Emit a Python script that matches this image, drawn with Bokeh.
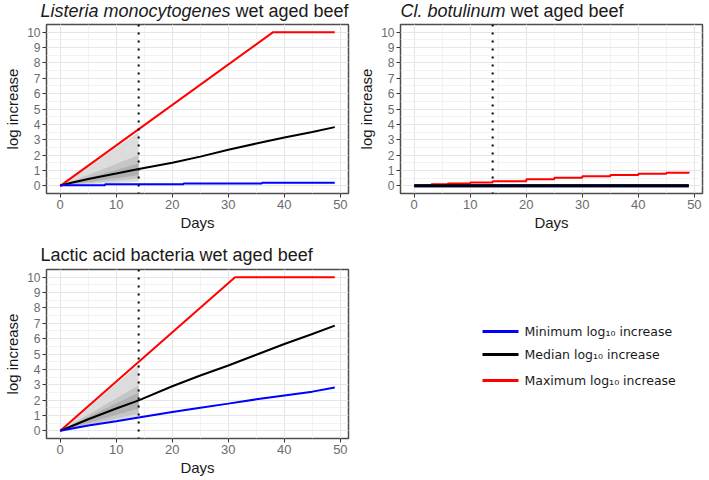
from bokeh.plotting import figure
from bokeh.layouts import row, column
from bokeh.models import Span, SingleIntervalTicker, Range1d, ColumnDataSource
from bokeh.embed import file_html
from bokeh.resources import INLINE
from bokeh.core.properties import value

FONT = "Liberation Sans"

# ---------------- data ----------------
# Listeria monocytogenes
lis_max_days = [0, 38, 49]
lis_max = [0, 10, 10]
lis_med_days = [0, 2, 5, 10, 14, 20, 25, 30, 35, 40, 45, 49]
lis_med = [0, 0.2, 0.45, 0.8, 1.1, 1.5, 1.9, 2.35, 2.75, 3.15, 3.5, 3.82]
lis_min_days = [0, 8, 22, 36, 49]
lis_min = [0.03, 0.1, 0.15, 0.2, 0.2]

# Cl. botulinum
bot_max_days = [3, 6, 10, 14, 20, 25, 30, 35, 40, 45, 49]
bot_max = [0.1, 0.15, 0.22, 0.3, 0.42, 0.52, 0.62, 0.7, 0.78, 0.85, 0.92]
bot_med_days = [0, 49]
bot_med = [0, 0]
bot_min_days = [0, 49]
bot_min = [0, 0]

# Lactic acid bacteria
lab_max_days = [0, 31.2, 49]
lab_max = [0, 10, 10]
lab_med_days = [0, 2, 5, 10, 14, 20, 25, 30, 35, 40, 45, 49]
lab_med = [0, 0.3, 0.75, 1.45, 1.98, 2.9, 3.6, 4.25, 4.95, 5.65, 6.3, 6.85]
lab_min_days = [0, 5, 10, 14, 20, 25, 30, 35, 40, 45, 49]
lab_min = [0, 0.35, 0.62, 0.86, 1.22, 1.5, 1.77, 2.05, 2.3, 2.55, 2.82]

# uncertainty bands during the first 14 days
band_days = [0, 7, 14]
lis_outer_lo = [0, 0.13, 0.26]
lis_outer_hi = [0, 1.75, 3.5]
lis_mid_lo = [0, 0.24, 0.48]
lis_mid_hi = [0, 1.0, 2.0]
lis_in_lo = [0, 0.35, 0.7]
lis_in_hi = [0, 0.72, 1.45]

lab_outer_lo = [0, 0.46, 0.93]
lab_outer_hi = [0, 2.15, 4.3]
lab_mid_lo = [0, 0.56, 1.12]
lab_mid_hi = [0, 1.48, 2.96]
lab_in_lo = [0, 0.72, 1.45]
lab_in_hi = [0, 1.25, 2.5]

x_ticks_interval = 10
y_ticks_interval = 1
storage_day = 14

legend_labels = ["Minimum log\u2081\u2080 increase", "Median log\u2081\u2080 increase", "Maximum log\u2081\u2080 increase"]
legend_colors = ["#0000FF", "#000000", "#FF0000"]

RED, BLACK, BLUE = "#FF0000", "#000000", "#0000FF"
FRAME_H = 169
LEFT = 46
TOP = 2
BOTTOM = 40


def make_fig(frame_w, right):
    p = figure(frame_width=frame_w, frame_height=FRAME_H,
               x_range=Range1d(-2.45, 51.45), y_range=Range1d(-0.5, 10.5),
               output_backend="svg", toolbar_location=None, title=None,
               min_border_left=LEFT, min_border_right=right,
               min_border_top=TOP, min_border_bottom=BOTTOM)
    p.xaxis.ticker = SingleIntervalTicker(interval=x_ticks_interval, num_minor_ticks=2)
    p.yaxis.ticker = SingleIntervalTicker(interval=y_ticks_interval, num_minor_ticks=2)
    p.xaxis.axis_label = "Days"
    p.yaxis.axis_label = "log increase"
    for ax in (p.xaxis, p.yaxis):
        ax.axis_label_text_font = FONT
        ax.axis_label_text_font_size = "15px"
        ax.axis_label_text_font_style = "normal"
        ax.axis_label_text_color = "#1a1a1a"
        ax.major_label_text_font = FONT
        ax.major_label_text_color = "#6b6b6b"
        ax.major_label_standoff = 2
        ax.axis_line_color = None
        ax.major_tick_line_color = "#333333"
        ax.major_tick_in = 0
        ax.major_tick_out = 4
        ax.minor_tick_line_color = None
    p.xaxis.axis_label_standoff = 2
    p.yaxis.axis_label_standoff = 3
    p.xaxis.major_label_text_font_size = "13px"
    p.yaxis.major_label_text_font_size = "12px"
    for g in (p.xgrid, p.ygrid):
        g.grid_line_color = "#E6E6E6"
        g.grid_line_width = 1.2
        g.minor_grid_line_color = "#EFEFEF"
        g.minor_grid_line_width = 0.8
    p.outline_line_color = "#4d4d4d"
    p.outline_line_width = 1.5
    p.background_fill_color = "white"
    p.border_fill_color = "white"
    p.add_layout(Span(location=storage_day, dimension="height", line_color="black",
                      line_dash="2 6", line_width=2))
    return p


def blank_fig(width, height):
    t = figure(width=width, height=height, x_range=Range1d(0, width), y_range=Range1d(height, 0),
               output_backend="svg", toolbar_location=None, title=None, min_border=0,
               x_axis_location=None, y_axis_location=None)
    t.outline_line_color = None
    t.xgrid.visible = False
    t.ygrid.visible = False
    return t


def title_fig(width, height, baseline, x0, parts):
    t = blank_fig(width, height)
    x = x0
    for text, style, w in parts:
        t.text(x=[x], y=[baseline], text=[text], text_font=value(FONT), text_font_size="18px",
               text_font_style=style, text_color="#1a1a1a", text_baseline="alphabetic")
        x += w
    return t


def add_bands(p, lo_hi_list):
    colors = ["#DCDCDC", "#C6C6C6", "#B0B0B0"]
    for (lo, hi), c in zip(lo_hi_list, colors):
        p.varea(x=band_days, y1=lo, y2=hi, fill_color=c, fill_alpha=1.0)


W1, W2 = 354, 350
FW1, FW2 = 302, 302

# ---- panel 1 ----
p1 = make_fig(FW1, W1 - LEFT - FW1)
t1 = title_fig(W1, 22, 10, 40, [("Listeria monocytogenes", "italic", 195), ("wet aged beef", "normal", 0)])
add_bands(p1, [(lis_outer_lo, lis_outer_hi), (lis_mid_lo, lis_mid_hi), (lis_in_lo, lis_in_hi)])
p1.line(lis_max_days, lis_max, line_color=RED, line_width=2)
p1.line(lis_med_days, lis_med, line_color=BLACK, line_width=2)
p1.step(lis_min_days, lis_min, mode="after", line_color=BLUE, line_width=2)

# ---- panel 2 ----
p2 = make_fig(FW2, W2 - LEFT - FW2)
t2 = title_fig(W2, 22, 10, 46, [("Cl. botulinum", "italic", 110), ("wet aged beef", "normal", 0)])
p2.line(bot_min_days, bot_min, line_color=BLUE, line_width=3)
p2.step(bot_max_days, bot_max, mode="after", line_color=RED, line_width=2)
p2.line(bot_med_days, bot_med, line_color=BLACK, line_width=3)

# ---- panel 3 ----
p3 = make_fig(FW1, W1 - LEFT - FW1)
t3 = title_fig(W1, 34, 21, 40, [("Lactic acid bacteria wet aged beef", "normal", 0)])
add_bands(p3, [(lab_outer_lo, lab_outer_hi), (lab_mid_lo, lab_mid_hi), (lab_in_lo, lab_in_hi)])
p3.line(lab_max_days, lab_max, line_color=RED, line_width=2)
p3.line(lab_med_days, lab_med, line_color=BLACK, line_width=2)
p3.line(lab_min_days, lab_min, line_color=BLUE, line_width=2)

# ---- legend panel (coordinates in pixels of its own frame) ----
leg = figure(frame_width=W2, frame_height=FRAME_H, x_range=Range1d(0, W2), y_range=Range1d(FRAME_H, 0),
             output_backend="svg", toolbar_location=None, title=None,
             min_border_left=0, min_border_right=0, min_border_top=TOP, min_border_bottom=BOTTOM,
             x_axis_location=None, y_axis_location=None)
leg.outline_line_color = None
leg.xgrid.visible = False
leg.ygrid.visible = False
leg_y = [62, 85, 111]
src = ColumnDataSource(dict(x0=[128] * 3, x1=[164] * 3, tx=[170] * 3, y=leg_y,
                            label=legend_labels, color=legend_colors))
leg.segment(x0="x0", y0="y", x1="x1", y1="y", line_color="color", line_width=3, source=src)
leg.text(x="tx", y="y", text="label", text_font=value("DejaVu Sans"), text_font_size="12.5px",
         text_baseline="middle", text_color="#1a1a1a", source=src)
t4 = blank_fig(W2, 34)

layout = column(row(t1, t2), row(p1, p2), row(t3, t4), row(p3, leg))

with open("out.html", "w") as f:
    f.write(file_html(layout, INLINE))
